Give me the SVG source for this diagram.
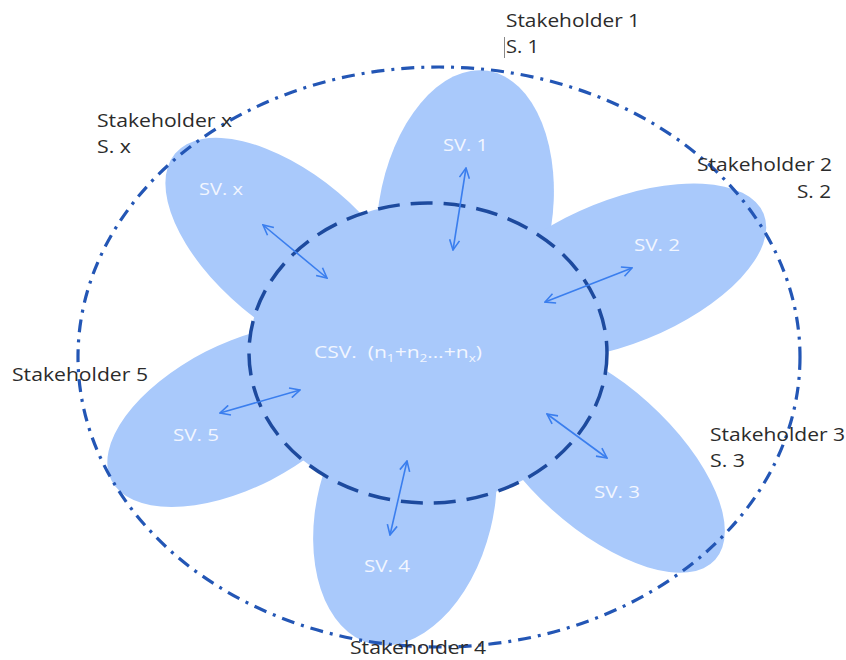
<svg xmlns="http://www.w3.org/2000/svg" width="846" height="660" viewBox="0 0 846 660">
<defs>
<style>
.petal{fill:#a9c9fb;stroke:none}
.core{fill:#a9c9fb;stroke:#1d4a9e;stroke-width:3.5;stroke-dasharray:22 11}
.outer{fill:none;stroke:#2356b5;stroke-width:3.2;stroke-dasharray:13 7 3 7}
.arr{stroke:#3a7eee;stroke-width:1.6;fill:none;marker-start:url(#ah);marker-end:url(#ah)}
.sv{font-family:"Open Sans","Liberation Sans",sans-serif;font-size:17px;fill:#f2f6ff}
.sh{font-family:"Open Sans","Liberation Sans",sans-serif;font-size:18px;fill:#2b2b2b}
</style>
<marker id="ah" viewBox="0 0 12 12" refX="11" refY="6" markerWidth="12" markerHeight="12" markerUnits="userSpaceOnUse" orient="auto-start-reverse">
<path d="M1,1 L11,6 L1,11" fill="none" stroke="#3a7eee" stroke-width="1.6"/>
</marker>
</defs>
<rect width="846" height="660" fill="#ffffff"/>
<g id="petal-1"><ellipse class="petal" cx="465" cy="215" rx="87" ry="146" transform="rotate(9 465 215)"/></g>
<g id="petal-2"><ellipse class="petal" cx="620" cy="272" rx="155" ry="72" transform="rotate(-22 620 272)"/></g>
<g id="petal-3"><ellipse class="petal" cx="600" cy="456" rx="155" ry="72" transform="rotate(42 600 456)"/></g>
<g id="petal-4"><ellipse class="petal" cx="405" cy="508" rx="88" ry="140" transform="rotate(14 405 508)"/></g>
<g id="petal-5"><ellipse class="petal" cx="238" cy="416" rx="142" ry="72" transform="rotate(-27 238 416)"/></g>
<g id="petal-x"><ellipse class="petal" cx="290" cy="250" rx="150" ry="75" transform="rotate(40 290 250)"/></g>
<g id="core"><ellipse class="core" cx="428" cy="353" rx="179" ry="150"/></g>
<g id="boundary"><ellipse class="outer" cx="439" cy="357" rx="361" ry="290"/></g>
<g id="connectors">
<line class="arr" x1="453" y1="250" x2="466" y2="168"/>
<line class="arr" x1="545" y1="302" x2="632" y2="268"/>
<line class="arr" x1="547" y1="414" x2="607" y2="458"/>
<line class="arr" x1="407" y1="461" x2="390" y2="535"/>
<line class="arr" x1="300" y1="390" x2="220" y2="413"/>
<line class="arr" x1="327" y1="278" x2="263" y2="225"/>
</g>
<g id="labels-sv">
<text class="sv" x="443" y="151" textLength="45" lengthAdjust="spacingAndGlyphs">SV. 1</text>
<text class="sv" x="634" y="251" textLength="46" lengthAdjust="spacingAndGlyphs">SV. 2</text>
<text class="sv" x="594" y="498" textLength="46" lengthAdjust="spacingAndGlyphs">SV. 3</text>
<text class="sv" x="364" y="572" textLength="46" lengthAdjust="spacingAndGlyphs">SV. 4</text>
<text class="sv" x="173" y="441" textLength="46" lengthAdjust="spacingAndGlyphs">SV. 5</text>
<text class="sv" x="199" y="195" textLength="44" lengthAdjust="spacingAndGlyphs">SV. x</text>
<text class="sv" x="314" y="358" textLength="168" lengthAdjust="spacingAndGlyphs">CSV.&#160; (n<tspan font-size="11" dy="4">1</tspan><tspan dy="-4">+n</tspan><tspan font-size="11" dy="4">2</tspan><tspan dy="-4">…+n</tspan><tspan font-size="11" dy="4">x</tspan><tspan dy="-4">)</tspan></text>
</g>
<g id="stakeholders">
<text class="sh" x="506" y="27" textLength="134" lengthAdjust="spacingAndGlyphs">Stakeholder 1</text>
<text class="sh" x="506" y="53" textLength="33" lengthAdjust="spacingAndGlyphs">S. 1</text>
<line x1="504.5" y1="37" x2="504.5" y2="58" stroke="#888" stroke-width="1"/>
<text class="sh" x="97" y="127" textLength="135" lengthAdjust="spacingAndGlyphs">Stakeholder x</text>
<text class="sh" x="97" y="153" textLength="34" lengthAdjust="spacingAndGlyphs">S. x</text>
<text class="sh" x="697" y="171" textLength="135" lengthAdjust="spacingAndGlyphs">Stakeholder 2</text>
<text class="sh" x="797" y="198" textLength="34" lengthAdjust="spacingAndGlyphs">S. 2</text>
<text class="sh" x="12" y="381" textLength="136" lengthAdjust="spacingAndGlyphs">Stakeholder 5</text>
<text class="sh" x="710" y="441" textLength="135" lengthAdjust="spacingAndGlyphs">Stakeholder 3</text>
<text class="sh" x="710" y="467" textLength="35" lengthAdjust="spacingAndGlyphs">S. 3</text>
<text class="sh" x="350" y="654" textLength="136" lengthAdjust="spacingAndGlyphs">Stakeholder 4</text>
</g>
</svg>
